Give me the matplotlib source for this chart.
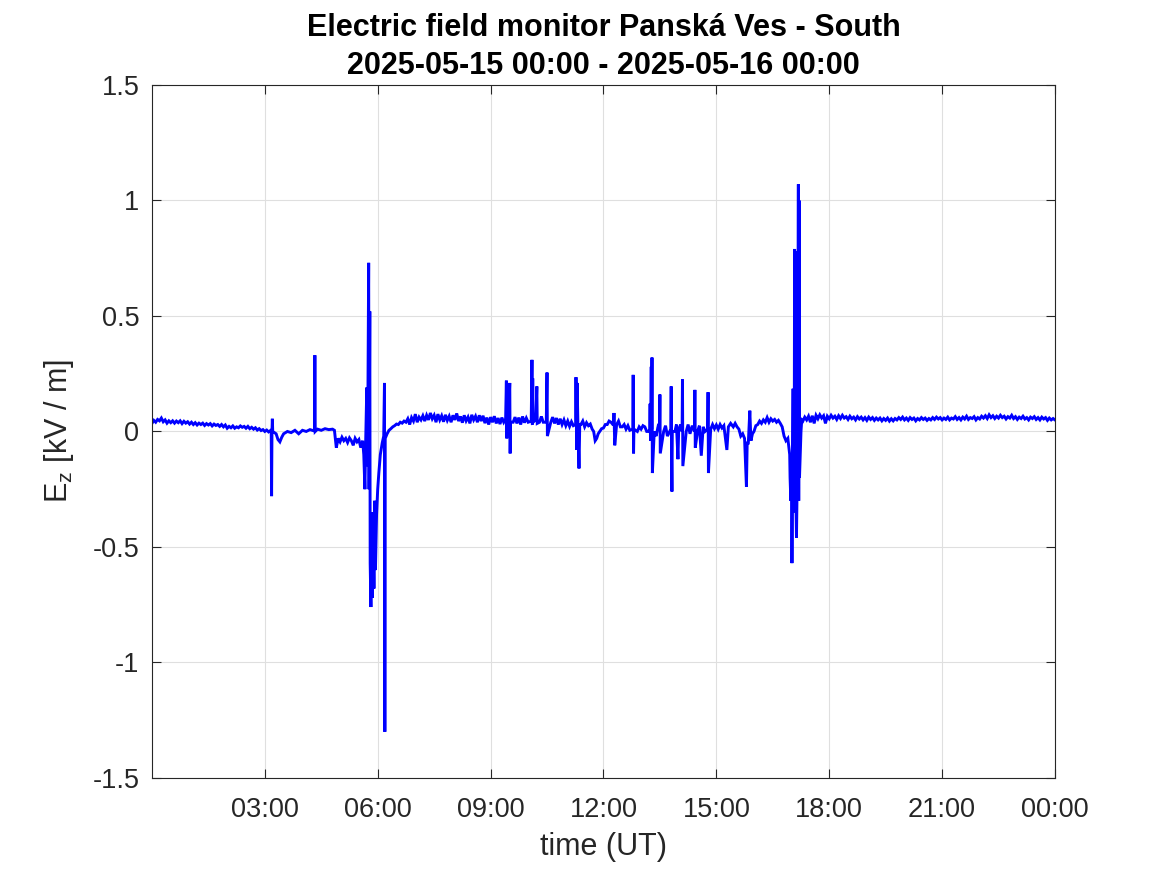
import matplotlib
matplotlib.use("Agg")
import matplotlib.pyplot as plt
import matplotlib.dates as mdates
import numpy as np
from datetime import datetime, timedelta

plt.rcParams['font.family'] = ['Liberation Sans', 'DejaVu Sans']

title_lines = ["Electric field monitor Panská Ves - South", "2025-05-15 00:00 - 2025-05-16 00:00"]
x_label = "time (UT)"
y_label = "E$_\\mathregular{z}$ [kV / m]"
start_time = datetime(2025, 5, 15, 0, 0)
y_ticks = [-1.5, -1, -0.5, 0, 0.5, 1, 1.5]
y_tick_labels = ["-1.5", "-1", "-0.5", "0", "0.5", "1", "1.5"]
x_tick_hours = [3, 6, 9, 12, 15, 18, 21, 24]

# --- data: Ez in kV/m, time in hours since start ---
# regularly sampled quiet stretch 00:00-03:09 (every 3 min)
quiet1_start_h, quiet1_step_h = 0.00, 0.05
quiet1_ez = [
    0.035, 0.048, 0.040, 0.052, 0.046, 0.058, 0.042, 0.050, 0.036, 0.046,
    0.038, 0.046, 0.036, 0.045, 0.038, 0.046, 0.034, 0.044, 0.036, 0.042,
    0.032, 0.040, 0.030, 0.038, 0.028, 0.036, 0.030, 0.036, 0.026, 0.034,
    0.028, 0.034, 0.024, 0.032, 0.026, 0.030, 0.022, 0.030, 0.020, 0.028,
    0.014, 0.022, 0.016, 0.024, 0.014, 0.020, 0.016, 0.024, 0.018, 0.022,
    0.014, 0.022, 0.012, 0.018, 0.010, 0.016, 0.006, 0.012, 0.004, 0.008,
    0.000, 0.006, -0.002, 0.004,
]

# disturbed morning 03:10-06:12
event1_hours = [
    3.17, 3.18, 3.19, 3.20, 3.21, 3.30, 3.35, 3.40, 3.45, 3.50, 3.60, 3.70,
    3.80, 3.90, 4.00, 4.10, 4.20, 4.30, 4.32, 4.33, 4.34, 4.40, 4.50, 4.60,
    4.70, 4.80, 4.85, 4.88, 4.90, 4.95, 5.00, 5.05, 5.10, 5.15, 5.20, 5.25,
    5.30, 5.35, 5.40, 5.45, 5.50, 5.55, 5.60,
    5.63, 5.66, 5.68, 5.71, 5.73, 5.76, 5.77, 5.79, 5.80, 5.82, 5.84, 5.86,
    5.88, 5.90, 5.92, 5.94, 5.97, 6.00, 6.03, 6.07, 6.12, 6.16, 6.18, 6.19, 6.20,
]
event1_ez = [
    0.000, -0.280, 0.000, 0.055, 0.000, -0.010, -0.035, -0.045, -0.025, -0.010, 0.000, -0.005,
    0.005, -0.010, 0.005, 0.000, 0.008, 0.003, 0.005, 0.330, 0.000, 0.010, 0.005, 0.012,
    0.008, 0.010, 0.005, -0.040, -0.070, -0.030, -0.045, -0.025, -0.040, -0.030, -0.048, -0.028,
    -0.040, -0.060, -0.030, -0.045, -0.035, -0.070, -0.040,
    -0.100, -0.250, -0.050, 0.190, -0.150, 0.730, -0.250, 0.520, -0.570, -0.760, -0.350, -0.720,
    -0.400, -0.680, -0.300, -0.600, -0.360, -0.250, -0.180, -0.100, -0.050, -0.020, 0.210, -1.300, -0.030,
]

# recovery 06:15-09:24 (every 3 min)
quiet2_start_h, quiet2_step_h = 6.25, 0.05
quiet2_ez = [
    -0.010, 0.005, 0.012, 0.020, 0.025, 0.032, 0.030, 0.040, 0.036, 0.045,
    0.040, 0.055, 0.030, 0.060, 0.045, 0.075, 0.040, 0.062, 0.050, 0.068,
    0.045, 0.070, 0.050, 0.080, 0.055, 0.070, 0.040, 0.075, 0.050, 0.068,
    0.042, 0.072, 0.048, 0.066, 0.040, 0.070, 0.050, 0.078, 0.045, 0.065,
    0.038, 0.070, 0.046, 0.062, 0.035, 0.072, 0.050, 0.066, 0.040, 0.070,
    0.045, 0.068, 0.036, 0.060, 0.030, 0.062, 0.040, 0.066, 0.035, 0.058,
    0.032, 0.060, 0.040, 0.055,
]

# spiky day 09:25-17:16
event2_hours = [
    9.42, 9.43, 9.44, 9.47, 9.51, 9.52, 9.53,
    9.60, 9.65, 9.70, 9.75, 9.80, 9.85, 9.90, 9.95, 10.00, 10.08, 10.10, 10.11, 10.12, 10.13, 10.20, 10.23,
    10.24, 10.30, 10.35, 10.40, 10.48, 10.50, 10.51, 10.60, 10.65, 10.70, 10.75, 10.80, 10.85, 10.90, 10.95, 11.00,
    11.05, 11.10, 11.15, 11.20, 11.26, 11.27, 11.29, 11.30, 11.32, 11.35, 11.37,
    11.40, 11.45, 11.50, 11.55, 11.60, 11.65, 11.70, 11.74, 11.78, 11.82, 11.86, 11.90, 11.95,
    12.00, 12.05, 12.10, 12.15, 12.20, 12.25, 12.27,
    12.28, 12.30, 12.35, 12.40, 12.45, 12.50, 12.55, 12.60, 12.65, 12.70, 12.78, 12.79, 12.80, 12.81,
    12.90, 12.95, 13.00, 13.05, 13.10, 13.15, 13.20, 13.23, 13.24, 13.25, 13.27, 13.28, 13.29, 13.30,
    13.35, 13.40, 13.45, 13.49, 13.50, 13.51, 13.60, 13.65, 13.70, 13.79, 13.80, 13.81, 13.82, 13.83,
    13.90, 13.94, 13.98, 14.00, 14.05, 14.09, 14.10, 14.11, 14.20, 14.25, 14.30, 14.36, 14.42, 14.43,
    14.44, 14.50, 14.55, 14.60, 14.65, 14.70, 14.77, 14.78, 14.79,
    14.85, 14.90, 14.95, 15.00, 15.05, 15.10, 15.15, 15.20, 15.28, 15.32, 15.38, 15.45, 15.50, 15.55,
    15.60, 15.65, 15.70, 15.75, 15.80, 15.82, 15.85, 15.89, 15.92, 15.96, 16.00, 16.05, 16.10, 16.15,
    16.20, 16.25, 16.30, 16.35, 16.40, 16.45, 16.50, 16.55, 16.60, 16.65, 16.70, 16.75, 16.80, 16.85,
    16.90, 16.95,
    16.96, 16.98, 17.00, 17.01, 17.02, 17.04, 17.05, 17.07, 17.08, 17.09, 17.10,
    17.11, 17.13, 17.15, 17.17, 17.18, 17.19, 17.20, 17.21, 17.23, 17.25, 17.27,
]
event2_ez = [
    0.220, -0.030, 0.045, 0.030, 0.210, -0.095, 0.040,
    0.040, 0.062, 0.035, 0.060, 0.030, 0.065, 0.038, 0.058, 0.040, 0.045, 0.310, 0.030, 0.230, 0.040, 0.050, 0.195,
    0.035, 0.040, 0.065, 0.040, 0.040, 0.255, -0.020, 0.040, 0.062, 0.035, 0.058, 0.030, 0.055, 0.030, 0.050, 0.025,
    0.045, 0.022, 0.042, 0.025, 0.030, 0.235, -0.080, 0.210, 0.040, -0.160, 0.030,
    0.030, 0.045, 0.020, 0.038, 0.025, 0.032, 0.010, 0.000, -0.040, -0.030, -0.010, 0.000, 0.012,
    0.015, 0.030, 0.030, 0.045, 0.040, 0.030, 0.030,
    0.080, -0.060, 0.030, 0.045, 0.020, 0.020, 0.030, 0.010, 0.025, 0.005, 0.010, 0.245, -0.095, 0.010,
    0.000, 0.020, 0.010, 0.025, 0.020, 0.000, 0.000, 0.010, 0.120, -0.040, 0.280, 0.010, 0.320, -0.180,
    0.000, -0.020, 0.020, 0.010, 0.160, -0.095, 0.000, 0.025, -0.020, 0.010, 0.195, -0.120, -0.260, 0.000,
    0.000, 0.030, -0.120, 0.010, 0.030, 0.000, 0.225, -0.150, 0.000, 0.030, -0.010, 0.025, 0.000, 0.180,
    -0.070, 0.000, 0.025, -0.105, 0.020, 0.000, 0.010, 0.170, -0.180,
    0.010, 0.030, 0.012, 0.028, 0.010, 0.030, 0.015, 0.025, -0.080, 0.020, 0.035, 0.020, 0.035, 0.020,
    0.010, -0.020, -0.010, -0.030, -0.240, -0.050, -0.050, 0.090, -0.040, -0.010, 0.000, 0.025, 0.030, 0.045,
    0.035, 0.050, 0.040, 0.060, 0.040, 0.055, 0.045, 0.052, 0.040, 0.048, 0.035, 0.020, -0.020, -0.040,
    -0.030, -0.100,
    -0.200, -0.300, -0.100, -0.570, -0.250, 0.185, -0.350, -0.100, 0.790, -0.300, 0.780,
    -0.250, -0.460, -0.200, 0.500, 1.070, -0.300, 1.000, -0.200, -0.100, 0.000, 0.050,
]

# quiet evening 17:18-24:00 (every 3 min)
quiet3_start_h, quiet3_step_h = 17.30, 0.05
quiet3_ez = [
    0.045, 0.062, 0.050, 0.066, 0.040, 0.068, 0.035, 0.070, 0.055, 0.072,
    0.058, 0.068, 0.035, 0.066, 0.055, 0.070, 0.058, 0.066, 0.052, 0.068,
    0.056, 0.070, 0.058, 0.064, 0.052, 0.066, 0.055, 0.062, 0.050, 0.064,
    0.054, 0.062, 0.050, 0.060, 0.048, 0.062, 0.052, 0.060, 0.048, 0.058,
    0.050, 0.058, 0.046, 0.056, 0.048, 0.058, 0.045, 0.055, 0.046, 0.056,
    0.050, 0.060, 0.052, 0.062, 0.050, 0.058, 0.048, 0.060, 0.052, 0.058,
    0.046, 0.056, 0.050, 0.060, 0.052, 0.058, 0.048, 0.056, 0.050, 0.060,
    0.052, 0.062, 0.054, 0.060, 0.050, 0.058, 0.052, 0.062, 0.050, 0.058,
    0.054, 0.064, 0.052, 0.060, 0.050, 0.062, 0.054, 0.066, 0.052, 0.060,
    0.056, 0.064, 0.050, 0.060, 0.054, 0.066, 0.058, 0.068, 0.056, 0.072,
    0.060, 0.068, 0.056, 0.066, 0.058, 0.070, 0.060, 0.066, 0.054, 0.064,
    0.058, 0.070, 0.056, 0.064, 0.052, 0.062, 0.056, 0.066, 0.054, 0.060,
    0.050, 0.062, 0.056, 0.064, 0.052, 0.060, 0.050, 0.062, 0.054, 0.060,
    0.048, 0.058, 0.050, 0.056, 0.050,
]

assert len(event1_hours) == len(event1_ez)
assert len(event2_hours) == len(event2_ez)


def sample_hours(start, step, values):
    return list(start + step * np.arange(len(values)))


hours = (sample_hours(quiet1_start_h, quiet1_step_h, quiet1_ez) + event1_hours
         + sample_hours(quiet2_start_h, quiet2_step_h, quiet2_ez) + event2_hours
         + sample_hours(quiet3_start_h, quiet3_step_h, quiet3_ez))
ez = quiet1_ez + event1_ez + quiet2_ez + event2_ez + quiet3_ez
times = [start_time + timedelta(hours=float(h)) for h in hours]

fig = plt.figure(figsize=(11.67, 8.75), dpi=100)
ax = fig.add_axes([0.1302, 0.1109, 0.7738, 0.7920])

ax.plot(times, ez, color=(0, 0, 1), linewidth=2.1, solid_joinstyle='miter')

ax.set_xlim(start_time, start_time + timedelta(hours=24))
ax.set_ylim(-1.5, 1.5)
ax.set_yticks(y_ticks)
ax.set_yticklabels(y_tick_labels)
ax.set_xticks([start_time + timedelta(hours=h) for h in x_tick_hours])
ax.xaxis.set_major_formatter(mdates.DateFormatter('%H:%M'))

ax.grid(True, color='#dfdfdf', linewidth=0.8)
ax.set_axisbelow(True)
for s in ax.spines.values():
    s.set_color('#262626')
    s.set_linewidth(0.8)
ax.tick_params(direction='in', length=6.5, width=0.8, colors='#262626',
               labelsize=19.5, top=True, right=True)
ax.tick_params(axis='x', pad=14)
ax.tick_params(axis='y', pad=9)

ax.set_xlabel(x_label, fontsize=22, color='#262626', labelpad=6)
ax.set_ylabel(y_label, fontsize=22, color='#262626', labelpad=12)
ax.set_title("\n".join(title_lines), fontsize=22, fontweight='bold', color='black',
             linespacing=1.35, pad=8)

fig.savefig("out.png", dpi=100)
